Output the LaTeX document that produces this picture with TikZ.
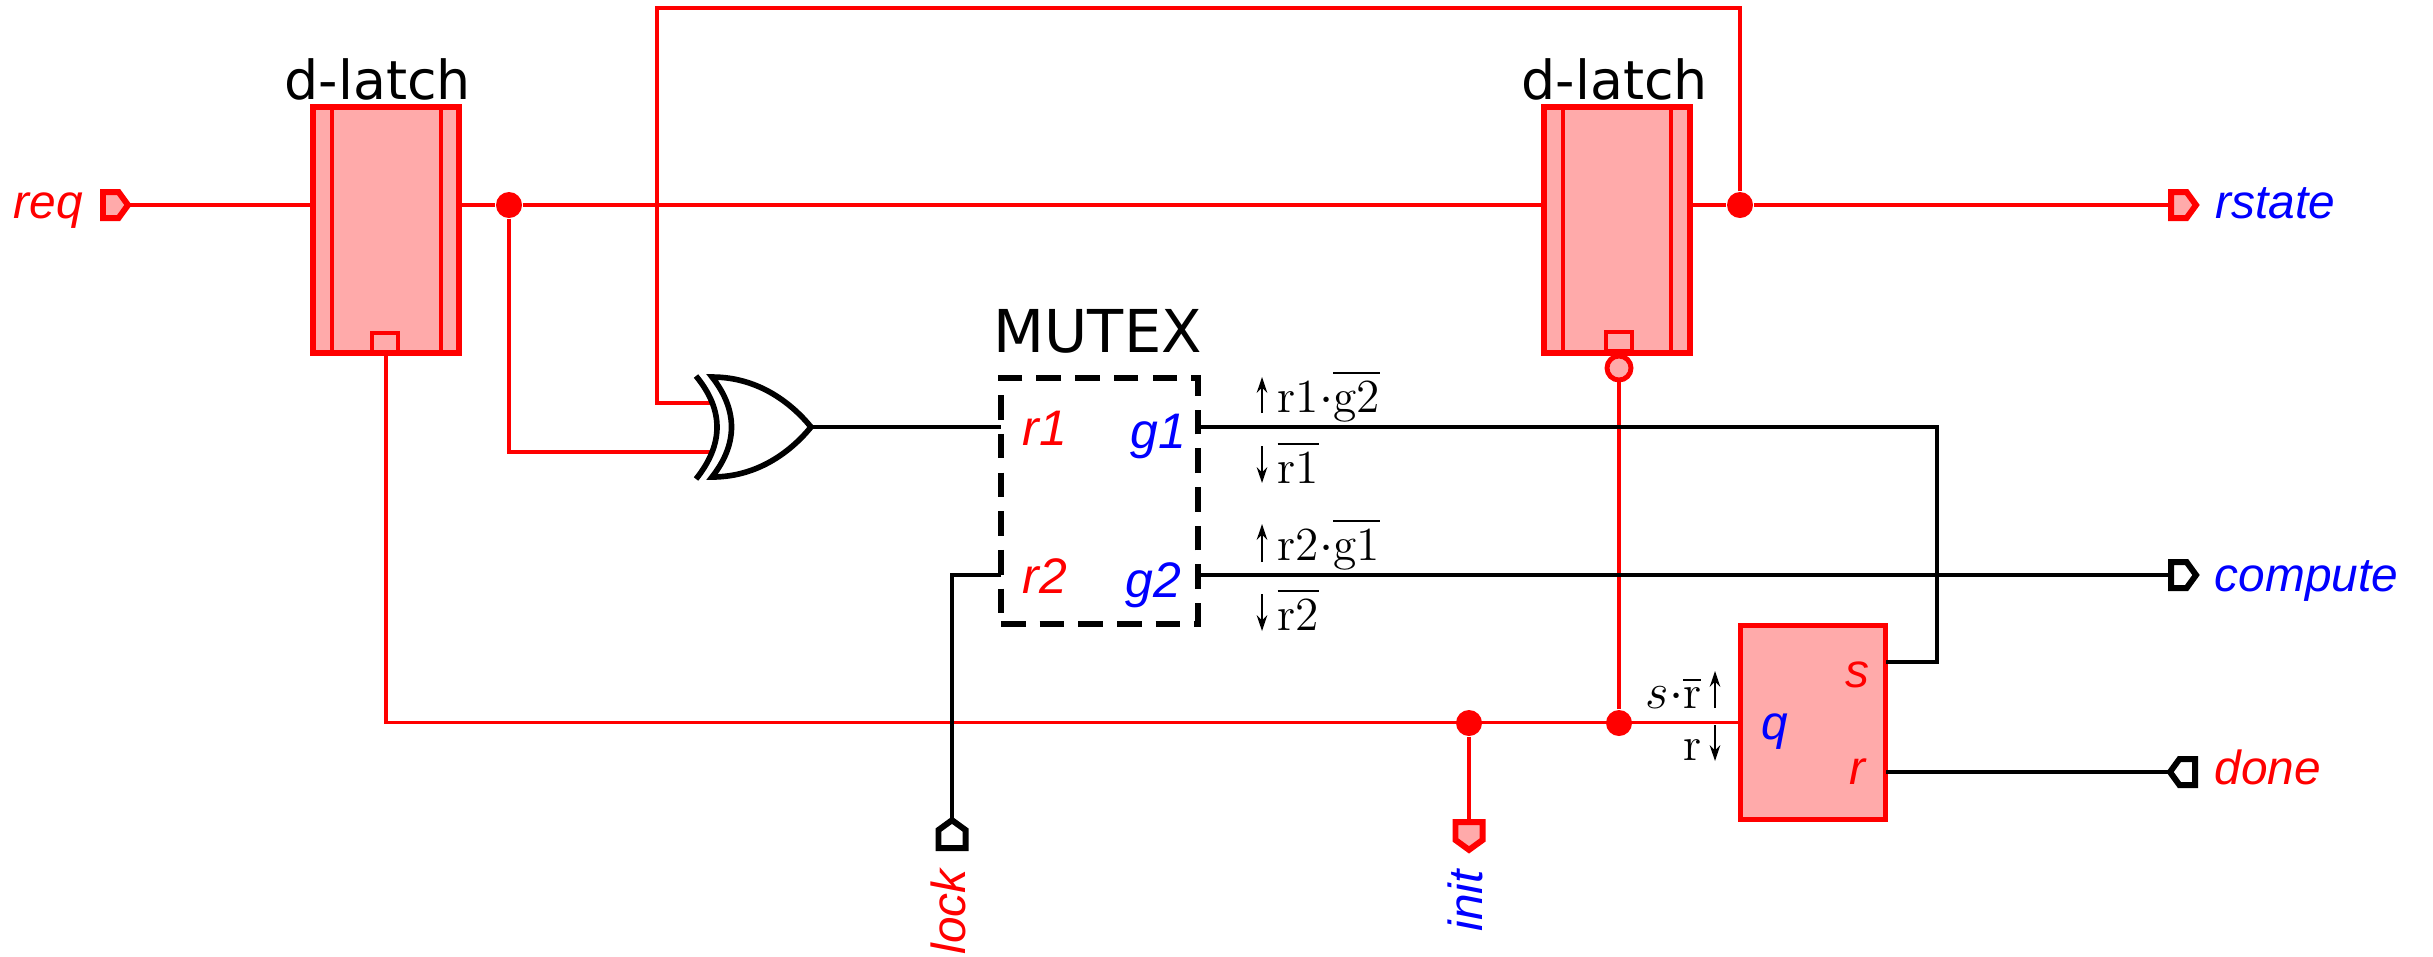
\documentclass[tikz,border=0pt]{standalone}
\usepackage{amsmath}
\usepackage{fontspec}
\setsansfont{Liberation Sans}
\newfontfamily\titlefont{DejaVu Sans}
\usetikzlibrary{shapes.symbols,arrows.meta}
\definecolor{pinkfill}{HTML}{FFAAAA}

\begin{document}
\begin{tikzpicture}[x=0.01cm,y=-0.01cm,
redwire/.style={draw=red,line width=1.05pt},blackwire/.style={draw=black,line width=1.05pt},
latchbox/.style={shape=rectangle,draw=red,fill=pinkfill,line width=1.9pt,minimum width=1.46cm,minimum height=2.46cm,inner sep=0pt},
clkbox/.style={shape=rectangle,draw=red,fill=pinkfill,line width=1pt,minimum width=0.26cm,minimum height=0.18cm,inner sep=0pt,anchor=south},
mutexbox/.style={shape=rectangle,draw=black,line width=1.6pt,dash pattern=on 7pt off 4pt,minimum width=1.97cm,minimum height=2.46cm,inner sep=0pt},
srbox/.style={shape=rectangle,draw=red,fill=pinkfill,line width=1.6pt,minimum width=1.45cm,minimum height=1.94cm,inner sep=0pt},
joint/.style={shape=circle,fill=red,inner sep=0pt,minimum size=0.26cm},
bubble/.style={shape=circle,draw=red,fill=pinkfill,line width=1.4pt,inner sep=0pt,minimum size=0.24cm},
port/.style={shape=signal,signal from=nowhere,signal pointer angle=108,line width=1.7pt,inner sep=0pt,minimum width=0.25cm,minimum height=0.26cm,outer sep=0pt},
portV/.style={minimum width=0.27cm,minimum height=0.18cm},
portR/.style={port,draw=red,fill=pinkfill},
portK/.style={port,draw=black,fill=white},
sig/.style={anchor=base west,inner sep=0pt,font=\sffamily\itshape\fontsize{13.6}{16}\selectfont},
pin/.style={sig,font=\sffamily\itshape\fontsize{14.2}{16}\selectfont},
title/.style={anchor=base west,inner sep=0pt,font=\titlefont\fontsize{15.3}{18}\selectfont},
expr/.style={anchor=base west,inner sep=0pt,font=\fontsize{13.5}{15}\selectfont},
flowmark/.style={line width=0.55pt,-{Stealth[length=4.5pt,width=3pt]}}]
\useasboundingbox (0,0) rectangle (2433,956);

\node[portR,signal to=east,anchor=west] (req) at (103,205) {};
\node[portR,signal to=east,anchor=west] (rstate) at (2171,205) {};
\node[portK,signal to=east,anchor=west] (compute) at (2171,575) {};
\node[portK,signal to=west,anchor=east] (done) at (2195,772) {};
\node[portK,portV,signal to=north,anchor=south] (lock) at (952,848) {};
\node[portR,portV,signal to=south,anchor=north] (init) at (1469,822) {};

\node[latchbox] (latchA) at (386,230) {};
\node[latchbox] (latchB) at (1617,230) {};
\node[clkbox] (clkA) at (385,353) {};
\node[clkbox] (clkB) at (1619,352) {};
\draw[redwire] (332,107) -- (332,353);
\draw[redwire] (441,107) -- (441,353);
\draw[redwire] (1563,107) -- (1563,352);
\draw[redwire] (1671,107) -- (1671,352);
\node[bubble] (inv) at (1619,368) {};

\node[mutexbox] (mutex) at (1099.5,501) {};
\node[srbox] (sr) at (1813,722.5) {};

\coordinate (xorA) at (712,403);
\coordinate (xorB) at (712,452);
\coordinate (xorOut) at (811,427);
\coordinate (pinR1) at (1001,427);
\coordinate (pinG1) at (1198,427);
\coordinate (pinR2) at (1001,575);
\coordinate (pinG2) at (1198,575);
\coordinate (pinS) at (1886,662);
\coordinate (pinR) at (1886,772);
\coordinate (bendG) at (1937,427);
\coordinate (bendT) at (657,8);
\coordinate (bendE) at (1740,8);

\node[joint] (jA) at (509,205) {};
\node[joint] (jB) at (1740,205) {};
\node[joint] (jC) at (1469,723) {};
\node[joint] (jD) at (1619,723) {};

\draw[redwire] (req.east) -- (latchA.west |- req.east);
\draw[redwire] (latchA.east |- jA) -- (jA) -- (latchB.west |- jA);
\draw[redwire] (latchB.east |- jB) -- (jB) -- (rstate.west);
\draw[redwire] (jB) -- (bendE) -- (bendT) |- (xorA);
\draw[redwire] (jA) |- (xorB);
\draw[redwire] (latchA.south) |- (sr.west);
\draw[redwire] (jC) -- (init.north);
\draw[redwire] (jD) -- (inv.south);

\draw[blackwire] (xorOut) -- (pinR1);
\draw[blackwire] (lock.north) |- (pinR2);
\draw[blackwire] (pinG1) -- (bendG) |- (pinS);
\draw[blackwire] (pinG2) -- (compute.west);
\draw[blackwire] (pinR) -- (done.west);

\draw[line width=1.6pt] (696,376) .. controls (724,410) and (724,444) .. (696,479);
\draw[line width=1.6pt] (712,377) .. controls (760,377) and (793,405) .. (xorOut) .. controls (793,449) and (760,477) .. (712,477) .. controls (738,444) and (738,410) .. cycle;

\node[title] (latchAT) at (284,99) {d-latch};
\node[title] (latchBT) at (1521,99) {d-latch};
\node[title,font=\titlefont\fontsize{16.8}{18}\selectfont] (mutexT) at (993,352) {MUTEX};

\node[sig,text=red] (reqT) at (13,218) {req};
\node[sig,text=blue] (rstateT) at (2215,218) {rstate};
\node[sig,text=blue] (computeT) at (2214,591) {compute};
\node[sig,text=red] (doneT) at (2214,784) {done};
\node[sig,text=red,rotate=90] (lockT) at (965,955) {lock};
\node[sig,text=blue,rotate=90] (initT) at (1482,932) {init};
\node[pin,text=red] (r1T) at (1022,445) {r1};
\node[pin,text=blue] (g1T) at (1130,448) {g1};
\node[pin,text=red] (r2T) at (1022,593) {r2};
\node[pin,text=blue] (g2T) at (1125,597) {g2};
\node[sig,text=red] (sT) at (1845,687) {s};
\node[sig,text=blue] (qT) at (1761,739) {q};
\node[sig,text=red] (rT) at (1849,784) {r};

\node[expr] (e1) at (1277,412) {$\mathrm{r1}{\cdot}\overline{\mathrm{g2}}$};
\node[expr] (e2) at (1277,483) {$\overline{\mathrm{r1}}$};
\node[expr] (e3) at (1277,560) {$\mathrm{r2}{\cdot}\overline{\mathrm{g1}}$};
\node[expr] (e4) at (1277,630) {$\overline{\mathrm{r2}}$};
\node[expr,anchor=base east] (e5) at (1702,708) {$s{\cdot}\overline{\mathrm{r}}$};
\node[expr,anchor=base east] (e6) at (1702,760) {$\mathrm{r}$};

\foreach \mx/\mya/\myb in {1262/413/377,1262/446/483,1262/562/524,1262/594/631,1715/708/671,1715/725/761}
  \draw[flowmark] (\mx,\mya) -- (\mx,\myb);
\end{tikzpicture}
\end{document}
